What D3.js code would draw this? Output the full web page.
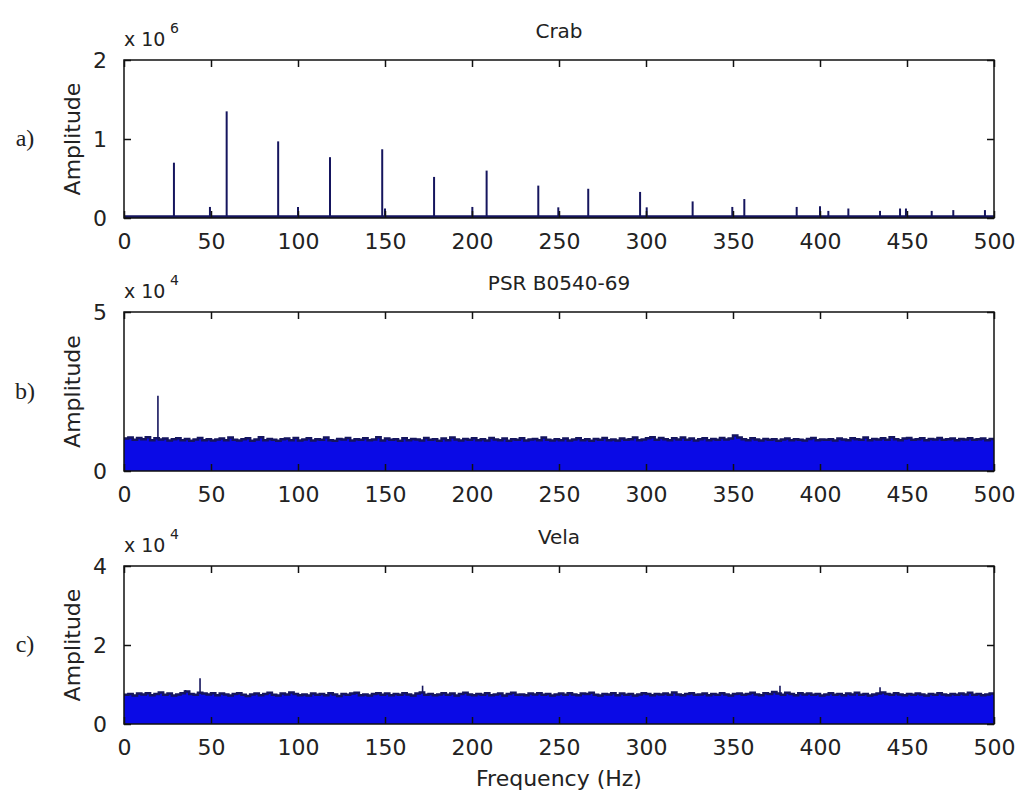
<!DOCTYPE html>
<html><head><meta charset="utf-8">
<script src="https://cdn.jsdelivr.net/npm/d3@7"></script>
<style>
body{margin:0;background:#fff;}
svg text{font-family:"DejaVu Sans",sans-serif;fill:#222;}
</style></head>
<body><svg id="c" width="1018" height="796"></svg>
<script>
// ---------- DATA ----------
const xTicks = [0,50,100,150,200,250,300,350,400,450,500];
const panelTitles = ["Crab","PSR B0540-69","Vela"];
const panelLetters = ["a)","b)","c)"];
const panelExponents = ["6","4","4"];
const yTicksCrab = [0,1,2];        // x 10^6
const yTicksPsr  = [0,5];          // x 10^4
const yTicksVela = [0,2,4];        // x 10^4
const yMax = [2,5,4];

// Crab harmonic lines: frequency (Hz), amplitude (x10^6)
const crabFreq = [28.7,49.4,59,88.6,100,118.4,148.4,150,178.2,200.2,208.4,238.1,249.6,266.8,296.6,300.4,326.8,349.6,356.5,386.6,400,404.8,416.3,434.5,446,449.4,464.2,476.6,494.8];
const crabAmp  = [0.70,0.14,1.35,0.97,0.14,0.77,0.87,0.12,0.52,0.14,0.60,0.41,0.135,0.37,0.33,0.135,0.21,0.14,0.24,0.14,0.15,0.09,0.12,0.09,0.12,0.12,0.09,0.10,0.10];
const crabFloor = [0.015,0.015]; // near-zero noise floor (x10^6) at 0 and 500 Hz

// Noise envelopes sampled every 2.5 Hz from 0 to 500 Hz (x10^4)
const noiseStep = 2.5;
const psrNoise = [
1.02,1.05,0.98,1.04,1.00,1.06,0.97,1.03,0.99,1.02,0.96,1.00,1.03,0.97,1.01,0.95,0.99,1.04,0.97,1.00,0.96,
0.99,1.02,0.97,1.05,0.98,0.96,1.00,1.03,0.95,0.99,1.06,0.97,1.01,0.98,0.95,1.00,1.02,0.97,1.04,0.96,
0.99,1.03,0.96,1.00,0.98,1.05,0.97,0.95,1.01,0.99,1.04,0.96,1.00,0.98,1.03,0.97,0.99,1.06,0.96,1.02,
0.98,1.00,0.95,1.03,0.97,1.01,0.99,0.96,1.04,0.98,1.00,0.95,1.02,0.97,1.05,0.99,0.96,1.01,0.98,1.03,
0.97,1.00,0.96,1.04,0.99,0.97,1.02,0.95,1.00,0.98,1.03,0.96,0.99,1.01,0.97,1.05,0.98,0.96,1.00,0.97,
1.02,0.96,0.99,1.03,0.97,1.00,0.95,1.01,0.98,1.04,0.97,0.99,0.96,1.02,0.98,1.00,1.05,0.97,0.99,1.03,
1.06,0.98,1.04,1.00,0.97,1.03,0.99,1.05,0.98,1.02,0.96,1.00,1.03,0.97,1.01,0.98,1.04,0.99,1.02,1.12,
1.05,1.00,0.97,1.03,0.99,0.96,1.01,0.98,1.00,0.95,0.99,1.02,0.97,1.00,0.98,0.96,1.01,1.04,0.97,0.99,
0.98,1.00,0.96,1.02,0.99,0.97,1.03,1.00,0.98,1.05,0.97,1.01,0.99,1.03,0.98,1.06,1.00,0.97,1.02,1.04,
0.98,1.00,1.03,0.97,1.01,0.99,1.04,0.98,1.00,1.02,0.97,1.01,0.99,1.03,0.98,1.00,1.02,0.97,1.01,1.04];
const velaNoise = [
0.74,0.76,0.72,0.77,0.75,0.78,0.73,0.76,0.80,0.74,0.77,0.72,0.75,0.78,0.82,0.76,0.74,0.79,0.77,0.75,0.78,
0.73,0.77,0.75,0.72,0.76,0.78,0.74,0.71,0.75,0.77,0.73,0.76,0.79,0.74,0.72,0.77,0.75,0.80,0.76,0.73,
0.75,0.72,0.77,0.74,0.76,0.73,0.78,0.75,0.71,0.76,0.74,0.77,0.79,0.73,0.75,0.72,0.76,0.78,0.74,0.77,
0.73,0.76,0.74,0.78,0.75,0.72,0.77,0.80,0.74,0.76,0.73,0.75,0.78,0.74,0.77,0.72,0.76,0.79,0.75,0.73,
0.76,0.74,0.78,0.73,0.75,0.77,0.72,0.76,0.79,0.74,0.75,0.73,0.77,0.75,0.78,0.74,0.76,0.72,0.75,0.77,
0.74,0.78,0.75,0.73,0.77,0.76,0.79,0.74,0.72,0.76,0.75,0.78,0.73,0.77,0.74,0.76,0.72,0.75,0.78,0.76,
0.73,0.76,0.75,0.77,0.74,0.80,0.75,0.73,0.76,0.78,0.74,0.75,0.77,0.73,0.76,0.74,0.78,0.75,0.72,0.76,
0.77,0.74,0.76,0.79,0.75,0.73,0.78,0.76,0.81,0.77,0.74,0.79,0.76,0.73,0.78,0.75,0.77,0.74,0.76,0.72,
0.75,0.78,0.74,0.76,0.73,0.77,0.75,0.79,0.74,0.76,0.72,0.75,0.77,0.80,0.76,0.74,0.78,0.75,0.73,0.76,
0.74,0.77,0.75,0.72,0.76,0.74,0.78,0.75,0.73,0.76,0.74,0.77,0.75,0.79,0.74,0.76,0.73,0.75,0.77,0.76];
// isolated peaks standing out of the noise (Hz, x10^4)
const psrPeakFreq = [19.5];
const psrPeakAmp  = [2.37];
const velaPeakFreq = [35.4,43.7,171.6,377,434.5];
const velaPeakAmp  = [0.86,1.16,0.97,0.97,0.93];

// ---------- LAYOUT ----------
const svg = d3.select("#c");
const L = 124, R = 994;
const panels = [
  {top:60, bottom:218, yTicks:yTicksCrab},
  {top:312, bottom:471, yTicks:yTicksPsr},
  {top:566, bottom:724, yTicks:yTicksVela}
];
const navy = "#15155e", blue = "#0a0ae6";
const x = d3.scaleLinear().domain([0,500]).range([L,R]);
const fs = 22;

panels.forEach((p,i)=>{
  const y = d3.scaleLinear().domain([0,yMax[i]]).range([p.bottom,p.top]);
  const g = svg.append("g");
  const clip = "clip"+i;
  svg.append("clipPath").attr("id",clip).append("rect")
     .attr("x",L).attr("y",p.top).attr("width",R-L).attr("height",p.bottom-p.top);
  const dg = g.append("g").attr("clip-path",`url(#${clip})`);

  if(i===0){
    dg.append("path").datum(crabFloor)
      .attr("d", d3.line().x((d,k)=>x(k*500)).y(d=>y(d)))
      .attr("stroke",navy).attr("stroke-width",3).attr("fill","none");
    dg.selectAll("line.s").data(crabFreq).join("line")
      .attr("x1",d=>x(d)).attr("x2",d=>x(d))
      .attr("y1",y(0)).attr("y2",(d,k)=>y(crabAmp[k]))
      .attr("stroke",navy).attr("stroke-width",2);
  } else {
    const arr = i===1 ? psrNoise : velaNoise;
    const area = d3.area().curve(d3.curveStepAfter)
      .x((d,k)=>x(k*noiseStep)).y0(y(0)).y1(d=>y(d));
    const line = d3.line().curve(d3.curveStepAfter)
      .x((d,k)=>x(k*noiseStep)).y(d=>y(d));
    dg.append("path").datum(arr).attr("d",area).attr("fill",blue);
    dg.append("path").datum(arr).attr("d",line).attr("fill","none")
      .attr("stroke",navy).attr("stroke-width",2.5);
    const pf = i===1 ? psrPeakFreq : velaPeakFreq;
    const pa = i===1 ? psrPeakAmp : velaPeakAmp;
    dg.selectAll("line.pk").data(pf).join("line")
      .attr("x1",d=>x(d)).attr("x2",d=>x(d))
      .attr("y1",d=>y(arr[Math.floor(d/noiseStep)]))
      .attr("y2",(d,k)=>y(pa[k]))
      .attr("stroke",navy).attr("stroke-width",1.6);
  }

  // axes box
  g.append("rect").attr("x",L).attr("y",p.top).attr("width",R-L).attr("height",p.bottom-p.top)
    .attr("fill","none").attr("stroke","#111").attr("stroke-width",1.5);

  // x axis (bottom, inward ticks) + mirrored top ticks
  const xa = g.append("g").attr("transform",`translate(0,${p.bottom})`)
    .call(d3.axisBottom(x).tickValues(xTicks).tickSizeInner(-7).tickSizeOuter(0).tickPadding(15));
  xa.select(".domain").remove();
  xa.selectAll("text").style("font-size",fs+"px").attr("fill","#222");
  xa.selectAll("line").attr("stroke","#111").attr("stroke-width",1.5);
  const xt = g.append("g").attr("transform",`translate(0,${p.top})`)
    .call(d3.axisTop(x).tickValues(xTicks).tickSizeInner(-7).tickSizeOuter(0).tickFormat(""));
  xt.select(".domain").remove();
  xt.selectAll("line").attr("stroke","#111").attr("stroke-width",1.5);

  // y axis left + right mirror
  const ya = g.append("g").attr("transform",`translate(${L},0)`)
    .call(d3.axisLeft(y).tickValues(p.yTicks).tickFormat(d3.format("d"))
      .tickSizeInner(-7).tickSizeOuter(0).tickPadding(17));
  ya.select(".domain").remove();
  ya.selectAll("text").style("font-size",fs+"px").attr("fill","#222");
  ya.selectAll("line").attr("stroke","#111").attr("stroke-width",1.5);
  const yr = g.append("g").attr("transform",`translate(${R},0)`)
    .call(d3.axisRight(y).tickValues(p.yTicks).tickSizeInner(-7).tickSizeOuter(0).tickFormat(""));
  yr.select(".domain").remove();
  yr.selectAll("line").attr("stroke","#111").attr("stroke-width",1.5);

  // exponent label
  g.append("text").attr("x",L).attr("y",p.top-14).style("font-size","19px").text("x 10");
  g.append("text").attr("x",L+46).attr("y",p.top-27).style("font-size","14px").text(panelExponents[i]);

  // title
  g.append("text").attr("x",(L+R)/2).attr("y",p.top-22).attr("text-anchor","middle")
    .style("font-size","20px").text(panelTitles[i]);

  // ylabel
  const cy = (p.top+p.bottom)/2;
  g.append("text").attr("transform",`translate(80,${cy}) rotate(-90)`).attr("text-anchor","middle")
    .style("font-size",fs+"px").text("Amplitude");
  // panel letter
  g.append("text").attr("x",25).attr("y",cy+7).attr("text-anchor","middle")
    .style("font-family","'Liberation Serif',serif").style("font-size","24px").text(panelLetters[i]);
});

svg.append("text").attr("x",(L+R)/2).attr("y",786).attr("text-anchor","middle")
  .style("font-size",fs+"px").text("Frequency (Hz)");
</script></body></html>
